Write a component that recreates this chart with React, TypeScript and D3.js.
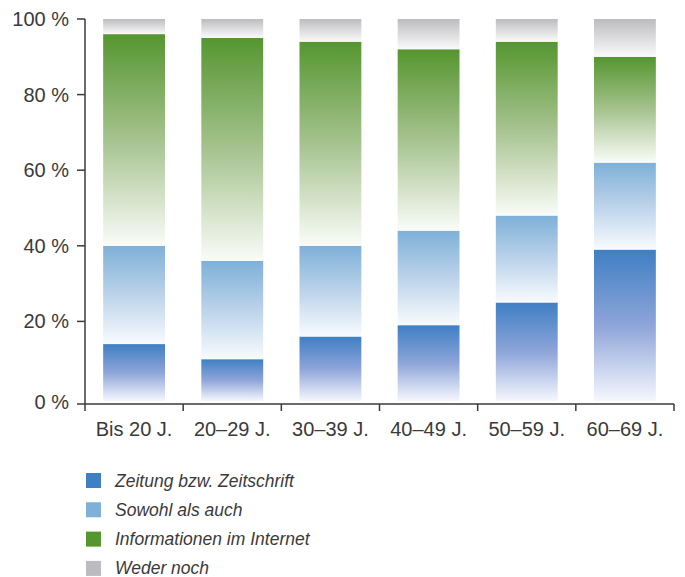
import React from "react";
import * as d3 from "d3";

const categories = ["Bis 20 J.", "20–29 J.", "30–39 J.", "40–49 J.", "50–59 J.", "60–69 J."];
const seriesNames = ["Zeitung bzw. Zeitschrift", "Sowohl als auch", "Informationen im Internet", "Weder noch"];
const zeitung = [14, 10, 16, 19, 25, 39];
const sowohl = [26, 26, 24, 25, 23, 23];
const internet = [56, 59, 54, 48, 46, 28];
const weder = [4, 5, 6, 8, 6, 10];
const yTicks = [0, 20, 40, 60, 80, 100];

const seriesValues = [zeitung, sowohl, internet, weder];
const legendColors = ["#3f7fc4", "#7eb0d8", "#55962f", "#bcbcc0"];
const gradientStops: string[][] = [
  ["#3f7fc4", "#8ea5d9", "#f5f7fd"],
  ["#7eb0d8", "#bcd3ea", "#f8fbfe"],
  ["#55962f", "#a6c38f", "#fafcf8"],
  ["#bcbcc0", "#dcdcde", "#fafafa"],
];

const W = 685;
const H = 577;

export default function App() {
  const x = d3.scaleBand<string>().domain(categories).range([85, 674]).paddingInner(0.37).paddingOuter(0.185);
  const y = d3.scaleLinear().domain([0, 100]).range([397, 19]);
  const axisY = 404;

  const rows = categories.map((c, i) => {
    const o: Record<string, number | string> = { cat: c };
    seriesNames.forEach((s, k) => (o[s] = seriesValues[k][i]));
    return o;
  });
  const stacked = d3.stack<Record<string, number | string>>().keys(seriesNames)(rows as any);

  const font = "'Liberation Sans', Arial, Helvetica, sans-serif";

  return (
    <svg width={W} height={H} style={{ position: "absolute", left: 0, top: 0, display: "block" }}>
      <defs>
        {gradientStops.map((st, k) => (
          <linearGradient key={k} id={`grad${k}`} x1="0" y1="0" x2="0" y2="1">
            <stop offset="0%" stopColor={st[0]} />
            <stop offset="50%" stopColor={st[1]} />
            <stop offset="100%" stopColor={st[2]} />
          </linearGradient>
        ))}
      </defs>
      <rect width={W} height={H} fill="#fff" />

      {stacked.map((layer, k) => (
        <g key={k} fill={`url(#grad${k})`}>
          {layer.map((d, i) => {
            const top = y(d[1]);
            const bottom = k === 0 ? axisY - 3 : y(d[0]);
            return (
              <rect
                key={i}
                x={x(categories[i])}
                y={top}
                width={x.bandwidth()}
                height={bottom - top}
              />
            );
          })}
        </g>
      ))}

      {/* axes */}
      <g stroke="#3a3a3a" strokeWidth={1.5} fill="none">
        <line x1={85} y1={y(100)} x2={85} y2={axisY} />
        <line x1={85} y1={axisY} x2={674} y2={axisY} />
        {yTicks.map((t) => (
          <line key={t} x1={77} x2={85} y1={t === 0 ? axisY : y(t)} y2={t === 0 ? axisY : y(t)} />
        ))}
        {d3.range(categories.length + 1).map((i) => {
          const xp = 85 + i * x.step();
          return <line key={i} x1={xp} x2={xp} y1={axisY} y2={411} />;
        })}
      </g>

      <g fontFamily={font} fontSize={20} fill="#3a3a3a">
        {yTicks.map((t) => (
          <text key={t} x={69} y={t === 0 ? axisY - 2 : y(t)} textAnchor="end" dominantBaseline="central">
            {`${t} %`}
          </text>
        ))}
        {categories.map((c) => (
          <text key={c} x={(x(c) as number) + x.bandwidth() / 2} y={436} textAnchor="middle">
            {c}
          </text>
        ))}
      </g>

      <g fontFamily={font} fontSize={17.5} fontStyle="italic" fill="#3a3a3a">
        {seriesNames.map((s, k) => (
          <g key={s} transform={`translate(86, ${473 + k * 29.3})`}>
            <rect width={15} height={15} fill={legendColors[k]} />
            <text x={29} y={7.5} dominantBaseline="central">
              {s}
            </text>
          </g>
        ))}
      </g>
    </svg>
  );
}
